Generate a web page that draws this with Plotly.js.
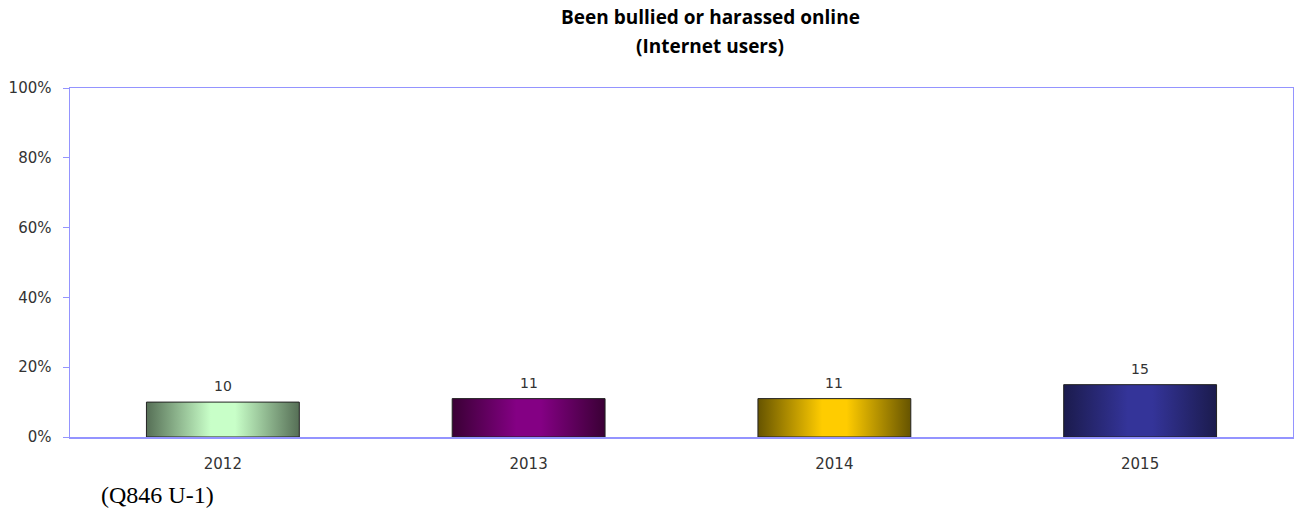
<!DOCTYPE html>
<html>
<head>
<meta charset="utf-8">
<script src="https://cdn.plot.ly/plotly-3.0.1.min.js"></script>
<style>
html,body{margin:0;padding:0;background:#fff;}
#chart{width:1294px;height:511px;}
</style>
</head>
<body>
<div id="chart"></div>
<script>
// ---- data ----
const years = ['2012', '2013', '2014', '2015'];
const values = [10, 11, 11, 15];
const yTickVals = [0, 20, 40, 60, 80, 100];
const yTickText = ['0%', '20%', '40%', '60%', '80%', '100%'];
const titleLine1 = 'Been bullied or harassed online';
const titleLine2 = '(Internet users)';
const footnote = '(Q846 U-1)';
// gradient colours per bar: [edge, centre]
const edgeColors = ['#566f56', '#3a0035', '#665400', '#1b1b4d'];
const centerColors = ['#c8ffc8', '#840084', '#ffcc00', '#343499'];

const axisBlue = '#9494ff';
const textGrey = '#333333';

const trace = {
  type: 'bar',
  x: years,
  y: values,
  marker: { color: centerColors, line: { color: '#222222', width: 1 } },
  hoverinfo: 'none'
};

const annotations = years.map((yr, i) => ({
  x: i, y: values[i], xref: 'x', yref: 'y',
  text: String(values[i]), showarrow: false,
  yanchor: 'bottom', yshift: 6,
  font: { family: 'DejaVu Sans', size: 14, color: textGrey }
}));
annotations.push({
  xref: 'paper', yref: 'paper', x: 0.5237, y: 1, yanchor: 'middle', yshift: 42,
  text: '<b>' + titleLine2 + '</b>', showarrow: false,
  font: { family: 'Open Sans', size: 19, color: '#000' }
});
annotations.push({
  xref: 'paper', yref: 'paper', x: 0.024, y: 0, xanchor: 'left', yanchor: 'middle',
  yshift: -58,
  text: footnote, showarrow: false,
  font: { family: 'Liberation Serif', size: 24, color: '#000' }
});

const layout = {
  width: 1294, height: 511,
  margin: { l: 70, r: 1, t: 88, b: 74, pad: 0 },
  paper_bgcolor: '#fff', plot_bgcolor: '#fff',
  showlegend: false,
  bargap: 0.5,
  title: {
    text: '<b>' + titleLine1 + '</b>',
    x: 0.5237, xref: 'paper', xanchor: 'center',
    y: 1, yref: 'container', yanchor: 'top', pad: { t: 11 },
    font: { family: 'Open Sans', size: 19, color: '#000' }
  },
  xaxis: {
    type: 'category',
    range: [-0.5, 3.5],
    showline: true, linecolor: axisBlue, linewidth: 1.5, mirror: true,
    showgrid: false, ticks: '', ticklabelstandoff: 12,
    tickfont: { family: 'DejaVu Sans', size: 15, color: textGrey },
    fixedrange: true
  },
  yaxis: {
    range: [0, 100],
    tickvals: yTickVals, ticktext: yTickText,
    showline: true, linecolor: axisBlue, linewidth: 1.5, mirror: true,
    showgrid: false, zeroline: false,
    ticks: 'outside', ticklen: 6, tickcolor: axisBlue, tickwidth: 1,
    ticklabelstandoff: 8,
    tickfont: { family: 'DejaVu Sans', size: 15, color: textGrey },
    fixedrange: true
  },
  annotations: annotations
};

Plotly.newPlot('chart', [trace], layout, { staticPlot: true, displayModeBar: false }).then(gd => {
  const svg = gd.querySelector('svg.main-svg');
  const NS = 'http://www.w3.org/2000/svg';
  let defs = svg.querySelector('defs');
  if (!defs) { defs = document.createElementNS(NS, 'defs'); svg.insertBefore(defs, svg.firstChild); }
  edgeColors.forEach((edge, i) => {
    const g = document.createElementNS(NS, 'linearGradient');
    g.setAttribute('id', 'barGrad' + i);
    g.setAttribute('x1', '0'); g.setAttribute('y1', '0');
    g.setAttribute('x2', '1'); g.setAttribute('y2', '0');
    [[0, edge], [0.42, centerColors[i]], [0.58, centerColors[i]], [1, edge]].forEach(([o, c]) => {
      const s = document.createElementNS(NS, 'stop');
      s.setAttribute('offset', o);
      s.setAttribute('stop-color', c);
      g.appendChild(s);
    });
    defs.appendChild(g);
  });
  gd.querySelectorAll('.barlayer .point path').forEach((p, i) => {
    p.style.fill = 'url(#barGrad' + i + ')';
  });
});
</script>
</body>
</html>
